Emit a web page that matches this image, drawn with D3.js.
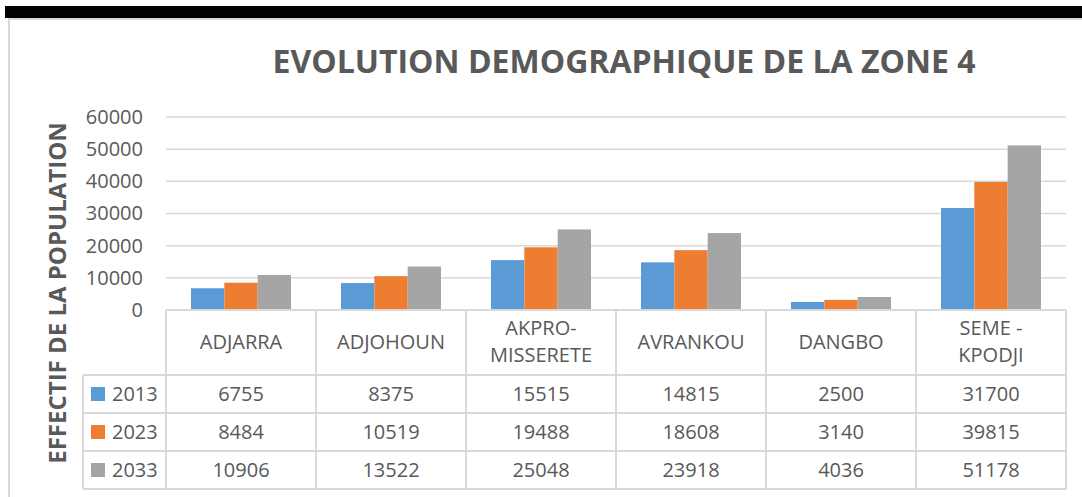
<!DOCTYPE html>
<html>
<head>
<meta charset="utf-8">
<script src="https://cdn.jsdelivr.net/npm/d3@7"></script>
<style>
  body { margin: 0; background: #fff; }
  text { font-family: "Open Sans", "Liberation Sans", sans-serif; fill: #595959; }
</style>
</head>
<body>
<div id="chart"></div>
<script>
var communes = ["ADJARRA", "ADJOHOUN", "AKPRO-\nMISSERETE", "AVRANKOU", "DANGBO", "SEME -\nKPODJI"];
var years = ["2013", "2023", "2033"];
var pop2013 = [6755, 8375, 15515, 14815, 2500, 31700];
var pop2023 = [8484, 10519, 19488, 18608, 3140, 39815];
var pop2033 = [10906, 13522, 25048, 23918, 4036, 51178];
var yTicks = [0, 10000, 20000, 30000, 40000, 50000, 60000];
var colors = ["#5b9bd5", "#ed7d31", "#a5a5a5"];

var series = [pop2013, pop2023, pop2033];

var width = 1082, height = 497;
var svg = d3.select("#chart").append("svg")
    .attr("width", width)
    .attr("height", height);

// black band at top + chart border
svg.append("rect").attr("x", 5).attr("y", 6).attr("width", width - 5).attr("height", 12).attr("fill", "#000");
svg.append("rect").attr("x", 9).attr("y", 19).attr("width", width + 10).attr("height", height)
    .attr("fill", "none").attr("stroke", "#d9d9d9").attr("stroke-width", 2);

var plot = {left: 166, right: 1066, top: 117, bottom: 310};

var x0 = d3.scaleBand().domain(communes).range([plot.left, plot.right]);
var x1 = d3.scaleBand().domain(years).range([25, 125]);
var y = d3.scaleLinear().domain([0, 60000]).range([plot.bottom, plot.top]);

// title
svg.append("text")
    .attr("x", 624).attr("y", 73)
    .attr("text-anchor", "middle")
    .style("font-size", "32px").style("font-weight", "bold")
    .text("EVOLUTION DEMOGRAPHIQUE DE LA ZONE 4");

// y label
svg.append("text")
    .attr("transform", "translate(66," + 293 + ")rotate(-90)")
    .attr("text-anchor", "middle")
    .style("font-size", "24px").style("font-weight", "bold")
    .text("EFFECTIF DE LA POPULATION");

// gridlines
svg.append("g").selectAll("line")
    .data(yTicks.filter(function(d) { return d > 0; }))
    .enter().append("line")
    .attr("x1", plot.left).attr("x2", plot.right)
    .attr("y1", function(d) { return y(d); })
    .attr("y2", function(d) { return y(d); })
    .attr("stroke", "#d9d9d9").attr("stroke-width", 1.5);

// y axis
var yAxis = d3.axisLeft(y).tickValues(yTicks).tickSize(0).tickPadding(0).tickFormat(d3.format("d"));
var gy = svg.append("g").attr("transform", "translate(143,0)").call(yAxis);
gy.select(".domain").remove();
gy.selectAll("text").style("font-size", "20px").style("fill", "#595959")
    .style("font-family", "\"Open Sans\", sans-serif");

// bars
svg.append("g").selectAll("g")
    .data(series)
    .enter().append("g")
    .attr("fill", function(d, i) { return colors[i]; })
    .selectAll("rect")
    .data(function(d, i) { return d.map(function(v, j) { return {c: communes[j], yr: years[i], v: v}; }); })
    .enter().append("rect")
    .attr("x", function(d) { return x0(d.c) + x1(d.yr); })
    .attr("width", x1.bandwidth())
    .attr("y", function(d) { return y(d.v); })
    .attr("height", function(d) { return plot.bottom - y(d.v); });

// data table
var rowTop = [310, 375, 413, 451, 489];
var tableLeft = 83;
var g = svg.append("g").attr("stroke", "#d9d9d9").attr("stroke-width", 2);
// horizontal lines
g.append("line").attr("x1", plot.left).attr("x2", plot.right).attr("y1", rowTop[0]).attr("y2", rowTop[0]);
rowTop.slice(1).forEach(function(r) {
  g.append("line").attr("x1", tableLeft).attr("x2", plot.right).attr("y1", r).attr("y2", r);
});
// vertical lines
g.append("line").attr("x1", tableLeft).attr("x2", tableLeft).attr("y1", rowTop[1]).attr("y2", rowTop[4]);
communes.forEach(function(c) {
  g.append("line").attr("x1", x0(c)).attr("x2", x0(c)).attr("y1", rowTop[0]).attr("y2", rowTop[4]);
});
g.append("line").attr("x1", plot.right).attr("x2", plot.right).attr("y1", rowTop[0]).attr("y2", rowTop[4]);

// header labels
communes.forEach(function(c) {
  var lines = c.split("\n");
  var cx = x0(c) + x0.bandwidth() / 2;
  var t = svg.append("text").attr("text-anchor", "middle").style("font-size", "20px");
  lines.forEach(function(l, k) {
    var yy = lines.length === 1 ? 349 : 335 + k * 27;
    t.append("tspan").attr("x", cx).attr("y", yy).text(l);
  });
});

// values + legend keys
series.forEach(function(s, i) {
  var cy = (rowTop[i + 1] + rowTop[i + 2]) / 2;
  svg.append("rect").attr("x", 91).attr("y", cy - 7).attr("width", 14).attr("height", 14).attr("fill", colors[i]);
  svg.append("text").attr("x", 112).attr("y", cy + 7).style("font-size", "20px").text(years[i]);
  s.forEach(function(v, j) {
    svg.append("text")
        .attr("x", x0(communes[j]) + x0.bandwidth() / 2)
        .attr("y", cy + 7)
        .attr("text-anchor", "middle")
        .style("font-size", "20px")
        .text(v);
  });
});
</script>
</body>
</html>
